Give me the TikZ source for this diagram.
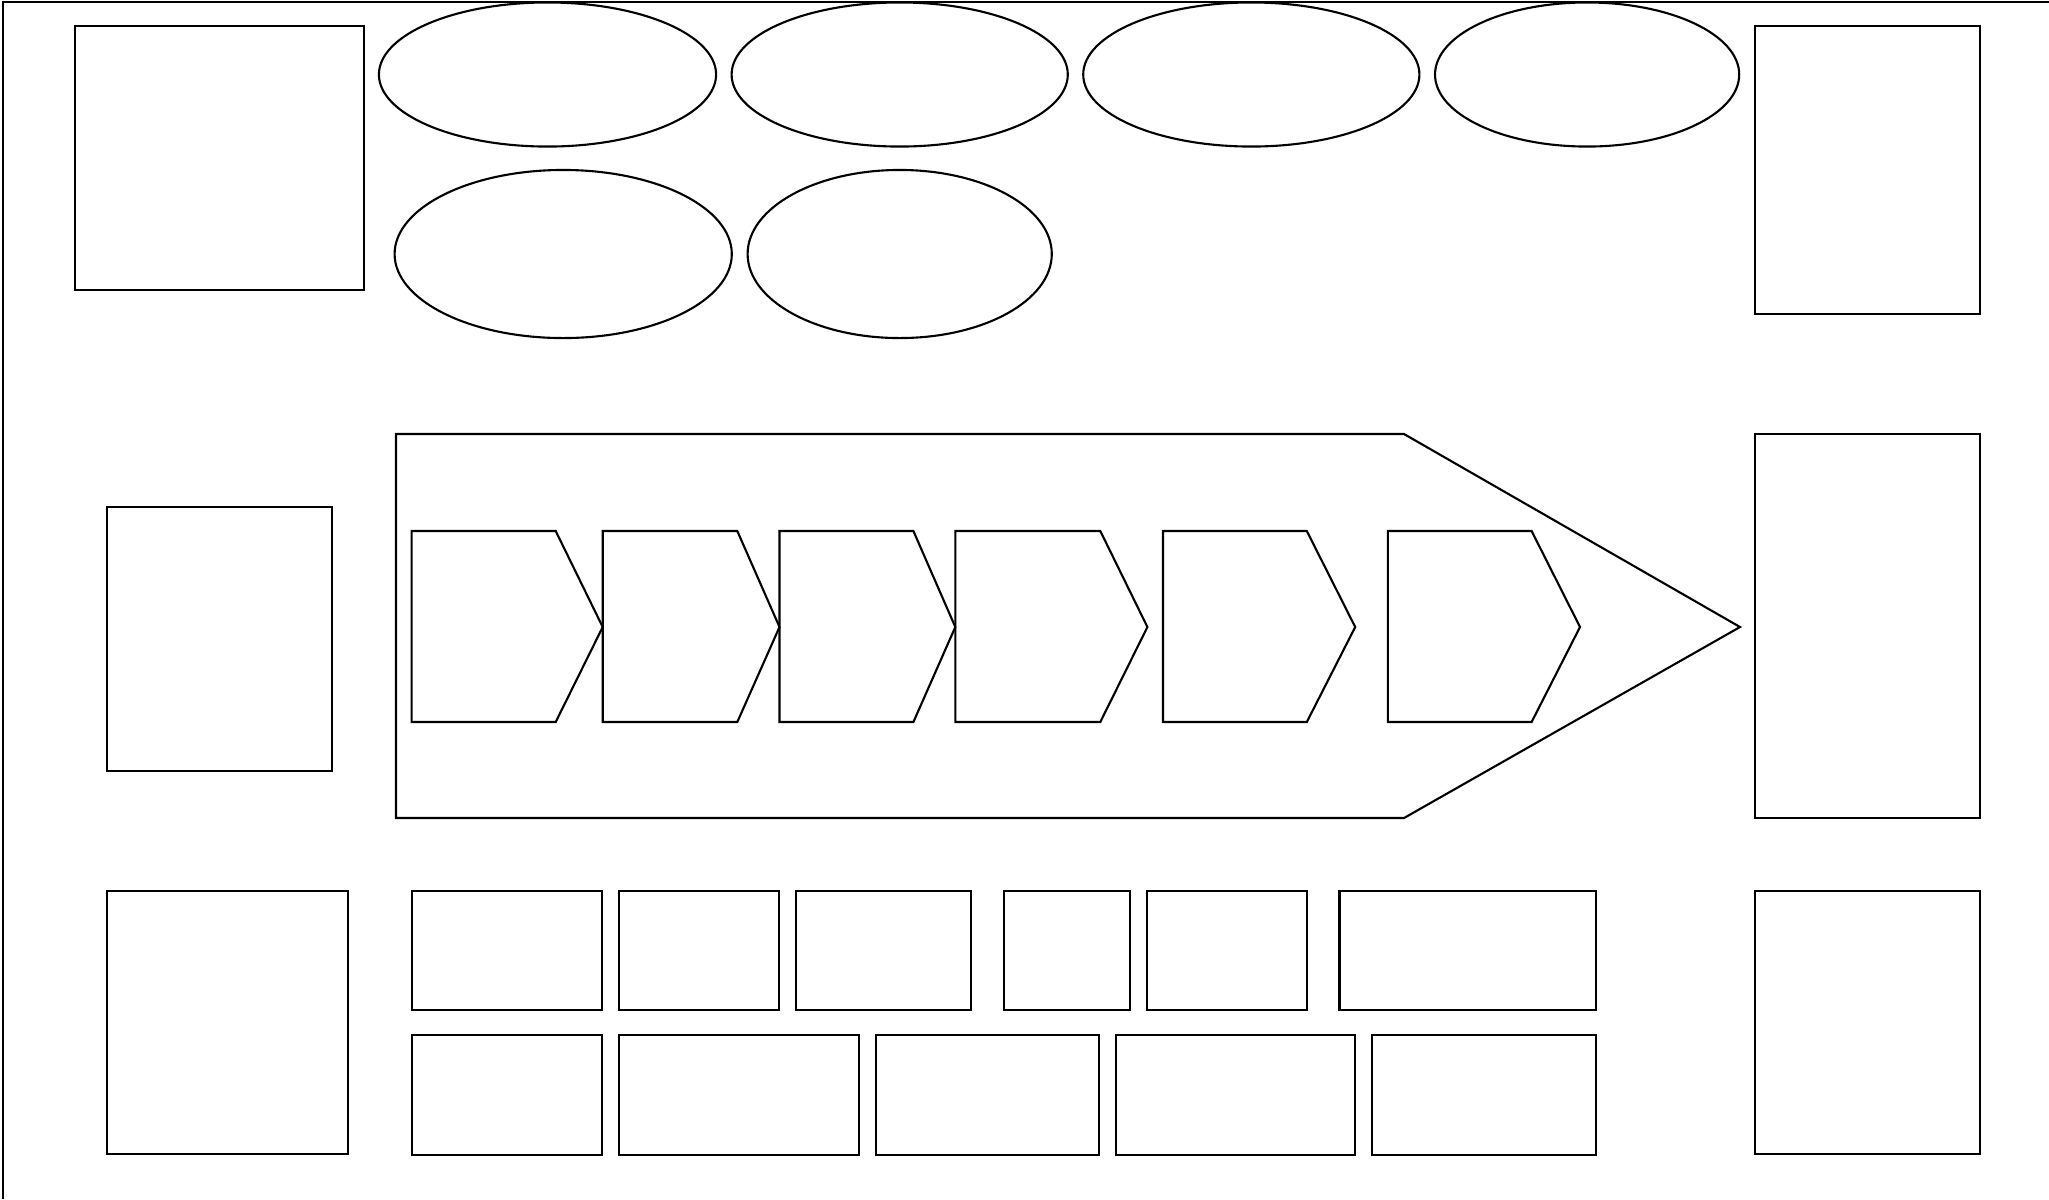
\documentclass[tikz,border=0pt]{standalone}
\usetikzlibrary{shapes.geometric}
\begin{document}
\begin{tikzpicture}[x=0.01cm,y=-0.01cm,
  line width=0.6pt,
  box/.style={draw=black,rectangle,inner sep=0pt,outer sep=0pt,anchor=north west},
  oval/.style={draw=black,ellipse,inner sep=0pt,outer sep=0pt},
  shape line/.style={draw=black,line join=miter}]
\useasboundingbox (0,0) rectangle (2049,1199);
% frame (top and left edges)
\coordinate (fbl) at (3,1199);
\coordinate (ftl) at (3,2);
\coordinate (ftr) at (2049,2);
\draw (fbl) -- (ftl) -- (ftr);
% corner boxes
\node[box,minimum width=2.89cm,minimum height=2.64cm] (tl) at (75,26) {};
\node[box,minimum width=2.25cm,minimum height=2.88cm] (tr) at (1755,26) {};
\node[box,minimum width=2.25cm,minimum height=2.64cm] (ml) at (107,507) {};
\node[box,minimum width=2.25cm,minimum height=3.84cm] (mr) at (1755,434) {};
\node[box,minimum width=2.41cm,minimum height=2.63cm] (bl) at (107,891) {};
\node[box,minimum width=2.25cm,minimum height=2.63cm] (br) at (1755,891) {};
% ellipses
\node[oval,minimum width=3.37cm,minimum height=1.44cm] (e1) at (547.5,74.5) {};
\node[oval,minimum width=3.36cm,minimum height=1.44cm] (e2) at (899.7,74.5) {};
\node[oval,minimum width=3.36cm,minimum height=1.44cm] (e3) at (1251.3,74.5) {};
\node[oval,minimum width=3.04cm,minimum height=1.44cm] (e4) at (1587.1,74.5) {};
\node[oval,minimum width=3.37cm,minimum height=1.68cm] (e5) at (563.2,254) {};
\node[oval,minimum width=3.04cm,minimum height=1.68cm] (e6) at (899.7,254) {};
% big arrow
\draw[shape line] (396,434) -- (1404,434) -- (1740,627) -- (1404,818) -- (396,818) -- cycle;
% chevrons
\foreach \l/\s/\t in {411.6/555.7/602.7, 602.7/737.3/779.5, 779.5/913.4/955.3, 955.3/1100.3/1147.4, 1163/1306.8/1355.2, 1387.8/1531.6/1580}{
  \draw[shape line] (\l,531) -- (\s,531) -- (\t,627) -- (\s,722) -- (\l,722) -- cycle;
}
% bottom rows of boxes
\foreach \a/\b [count=\i] in {411.6/602.4, 619.4/778.9, 795.8/970.9, 1003.6/1130.4, 1147.4/1306.8, 1339.5/1595.6}{
  \pgfmathsetmacro{\w}{(\b-\a)*0.01}
  \node[box,minimum width=\w cm,minimum height=1.19cm] (r1\i) at (\a,891) {};
}
\foreach \a/\b [count=\i] in {411.6/602.4, 619.4/858.6, 875.6/1099, 1116/1355.2, 1372.1/1595.6}{
  \pgfmathsetmacro{\w}{(\b-\a)*0.01}
  \node[box,minimum width=\w cm,minimum height=1.20cm] (r2\i) at (\a,1035) {};
}
\end{tikzpicture}
\end{document}
